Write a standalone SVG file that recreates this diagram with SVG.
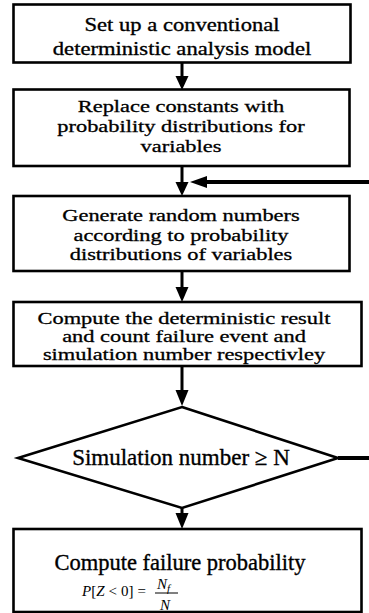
<svg xmlns="http://www.w3.org/2000/svg" width="369" height="613" viewBox="0 0 369 613">
<style>
.box{fill:#fff;stroke:#000;stroke-width:2.6}
.t{font-family:"Liberation Serif","DejaVu Serif",serif;font-size:20px;fill:#000;stroke:#000;stroke-width:0.35;text-anchor:middle}
.b{font-size:22.5px}
.f{font-family:"Liberation Serif","DejaVu Serif",serif;font-size:15px;fill:#000}
.i{font-style:italic}
.ln{stroke:#000;stroke-width:3;fill:none}
.fb{stroke:#000;stroke-width:4;fill:none}
.ah{fill:#000}
</style>
<rect width="369" height="613" fill="#fff"/>
<g id="connectors">
<line class="ln" x1="182" y1="63" x2="182" y2="77"/>
<polygon class="ah" points="175.5,76 188.5,76 182,90"/>
<line class="ln" x1="182" y1="166" x2="182" y2="183"/>
<polygon class="ah" points="175.5,182 188.5,182 182,196"/>
<line class="fb" x1="369" y1="182" x2="200" y2="182"/>
<polygon class="ah" points="190,182 207,176 207,188"/>
<line class="ln" x1="182" y1="271" x2="182" y2="288"/>
<polygon class="ah" points="175.5,287 188.5,287 182,302"/>
<line class="ln" x1="182" y1="366" x2="182" y2="392"/>
<polygon class="ah" points="175.5,390 188.5,390 182,406"/>
<line class="ln" x1="182" y1="508" x2="182" y2="515"/>
<polygon class="ah" points="175.5,513 188.5,513 182,529"/>
<line class="fb" x1="338" y1="458" x2="369" y2="458"/>
</g>
<g id="n1">
<rect class="box" x="13.5" y="4.5" width="337" height="58"/>
<text class="t" transform="translate(182,31) scale(1.13,0.95)">Set up a conventional</text>
<text class="t" transform="translate(182,55) scale(1.13,0.95)">deterministic analysis model</text>
</g>
<g id="n2">
<rect class="box" x="13.5" y="89.5" width="336" height="76.5"/>
<text class="t" transform="translate(181,112) scale(1.12,0.86)">Replace constants with</text>
<text class="t" transform="translate(181,132) scale(1.12,0.86)">probability distributions for</text>
<text class="t" transform="translate(181,152) scale(1.12,0.86)">variables</text>
</g>
<g id="n3">
<rect class="box" x="13.5" y="196" width="336" height="75"/>
<text class="t" transform="translate(181,221) scale(1.12,0.86)">Generate random numbers</text>
<text class="t" transform="translate(181,240.5) scale(1.12,0.86)">according to probability</text>
<text class="t" transform="translate(181,260) scale(1.12,0.86)">distributions of variables</text>
</g>
<g id="n4">
<rect class="box" x="13.5" y="302" width="348" height="64"/>
<text class="t" transform="translate(184,324) scale(1.12,0.8)">Compute the deterministic result</text>
<text class="t" transform="translate(184,342) scale(1.12,0.8)">and count failure event and</text>
<text class="t" transform="translate(184,360) scale(1.12,0.8)">simulation number respectivley</text>
</g>
<g id="n5">
<polygon class="box" points="182,407 338,458 182,508 18,458"/>
<text class="t" style="font-size:23px" x="181" y="465">Simulation number ≥ N</text>
</g>
<g id="n6">
<rect class="box" x="13.5" y="529" width="348" height="83"/>
<text class="t b" x="180" y="570">Compute failure probability</text>
<text class="f" x="82" y="596" textLength="64"><tspan class="i">P</tspan>[<tspan class="i">Z</tspan> &lt; 0] =</text>
<text class="f i" x="157" y="589">N<tspan font-size="11" dy="3">f</tspan></text>
<line x1="155" y1="593" x2="178" y2="593" stroke="#000" stroke-width="1"/>
<text class="f i" x="160" y="610">N</text>
</g>
</svg>
